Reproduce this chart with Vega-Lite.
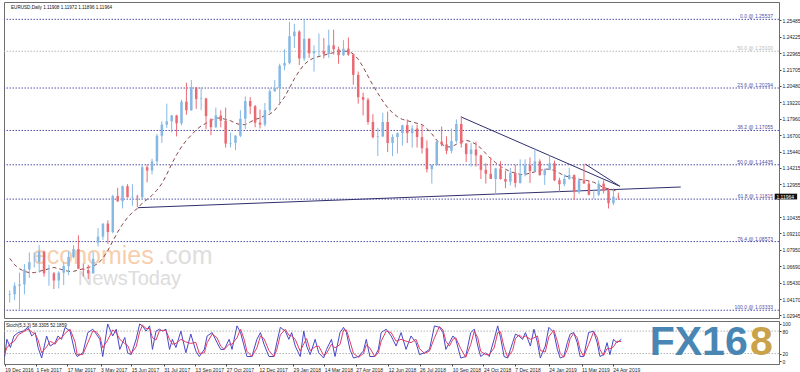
{
"$schema":"https://vega.github.io/schema/vega-lite/v6.json",
"background":"white",
"padding":{"left":2,"top":1,"right":0,"bottom":0},
"spacing":1,
"config":{"view":{"stroke":"#6e6e6e","strokeWidth":1},"font":"Liberation Sans",
 "axis":{"labelFont":"Liberation Sans","labelFontSize":5,"labelColor":"#222","tickSize":2,"tickColor":"#444","domainColor":"#6e6e6e","labelPadding":1,"grid":false,"labelOverlap":false,"labelBound":false,"labelFlush":false,"labelSeparation":0}},
"datasets":{
"px":[
{"d":"2016-12-19","o":1.0450,"h":1.0485,"l":1.0390,"c":1.0455,"ma":1.073},
{"d":"2016-12-26","o":1.0455,"h":1.0545,"l":1.0410,"c":1.0520,"ma":1.068},
{"d":"2017-01-02","o":1.0520,"h":1.0620,"l":1.0340,"c":1.0530,"ma":1.065},
{"d":"2017-01-09","o":1.0530,"h":1.0685,"l":1.0455,"c":1.0645,"ma":1.063},
{"d":"2017-01-16","o":1.0645,"h":1.0775,"l":1.0580,"c":1.0700,"ma":1.062},
{"d":"2017-01-23","o":1.0700,"h":1.0775,"l":1.0660,"c":1.0700,"ma":1.062},
{"d":"2017-01-30","o":1.0700,"h":1.0830,"l":1.0620,"c":1.0780,"ma":1.063},
{"d":"2017-02-06","o":1.0780,"h":1.0790,"l":1.0590,"c":1.0615,"ma":1.064},
{"d":"2017-02-13","o":1.0615,"h":1.0680,"l":1.0520,"c":1.0615,"ma":1.065},
{"d":"2017-02-20","o":1.0615,"h":1.0625,"l":1.0495,"c":1.0560,"ma":1.066},
{"d":"2017-02-27","o":1.0560,"h":1.0630,"l":1.0500,"c":1.0620,"ma":1.065},
{"d":"2017-03-06","o":1.0620,"h":1.0700,"l":1.0525,"c":1.0670,"ma":1.064},
{"d":"2017-03-13","o":1.0670,"h":1.0780,"l":1.0600,"c":1.0740,"ma":1.063},
{"d":"2017-03-20","o":1.0740,"h":1.0830,"l":1.0730,"c":1.0800,"ma":1.063},
{"d":"2017-03-27","o":1.0800,"h":1.0905,"l":1.0650,"c":1.0650,"ma":1.064},
{"d":"2017-04-03","o":1.0650,"h":1.0690,"l":1.0590,"c":1.0640,"ma":1.065},
{"d":"2017-04-10","o":1.0640,"h":1.0680,"l":1.0570,"c":1.0615,"ma":1.066},
{"d":"2017-04-17","o":1.0615,"h":1.0780,"l":1.0610,"c":1.0725,"ma":1.067},
{"d":"2017-04-24","o":1.0850,"h":1.0960,"l":1.0820,"c":1.0895,"ma":1.069},
{"d":"2017-05-01","o":1.0895,"h":1.0995,"l":1.0870,"c":1.0995,"ma":1.073},
{"d":"2017-05-08","o":1.0995,"h":1.1020,"l":1.0840,"c":1.0930,"ma":1.079},
{"d":"2017-05-15","o":1.0930,"h":1.1215,"l":1.0920,"c":1.1205,"ma":1.086},
{"d":"2017-05-22","o":1.1205,"h":1.1268,"l":1.1160,"c":1.1165,"ma":1.093},
{"d":"2017-05-29","o":1.1165,"h":1.1285,"l":1.1110,"c":1.1280,"ma":1.099},
{"d":"2017-06-05","o":1.1280,"h":1.1295,"l":1.1195,"c":1.1195,"ma":1.104},
{"d":"2017-06-12","o":1.1195,"h":1.1295,"l":1.1130,"c":1.1200,"ma":1.108},
{"d":"2017-06-19","o":1.1200,"h":1.1215,"l":1.1120,"c":1.1195,"ma":1.111},
{"d":"2017-06-26","o":1.1195,"h":1.1445,"l":1.1180,"c":1.1425,"ma":1.115},
{"d":"2017-07-03","o":1.1425,"h":1.1445,"l":1.1310,"c":1.1400,"ma":1.118},
{"d":"2017-07-10","o":1.1400,"h":1.1490,"l":1.1370,"c":1.1470,"ma":1.121},
{"d":"2017-07-17","o":1.1470,"h":1.1680,"l":1.1440,"c":1.1665,"ma":1.125},
{"d":"2017-07-24","o":1.1665,"h":1.1775,"l":1.1610,"c":1.1750,"ma":1.130},
{"d":"2017-07-31","o":1.1750,"h":1.1910,"l":1.1725,"c":1.1775,"ma":1.137},
{"d":"2017-08-07","o":1.1775,"h":1.1825,"l":1.1690,"c":1.1820,"ma":1.145},
{"d":"2017-08-14","o":1.1820,"h":1.1825,"l":1.1660,"c":1.1760,"ma":1.152},
{"d":"2017-08-21","o":1.1760,"h":1.1940,"l":1.1745,"c":1.1925,"ma":1.158},
{"d":"2017-08-28","o":1.1925,"h":1.2070,"l":1.1825,"c":1.1860,"ma":1.163},
{"d":"2017-09-04","o":1.1860,"h":1.2090,"l":1.1855,"c":1.2035,"ma":1.167},
{"d":"2017-09-11","o":1.2035,"h":1.2035,"l":1.1870,"c":1.1945,"ma":1.171},
{"d":"2017-09-18","o":1.1945,"h":1.2035,"l":1.1860,"c":1.1950,"ma":1.174},
{"d":"2017-09-25","o":1.1950,"h":1.1955,"l":1.1715,"c":1.1815,"ma":1.176},
{"d":"2017-10-02","o":1.1790,"h":1.1800,"l":1.1670,"c":1.1730,"ma":1.178},
{"d":"2017-10-09","o":1.1730,"h":1.1880,"l":1.1725,"c":1.1820,"ma":1.180},
{"d":"2017-10-16","o":1.1820,"h":1.1860,"l":1.1730,"c":1.1780,"ma":1.180},
{"d":"2017-10-23","o":1.1780,"h":1.1880,"l":1.1575,"c":1.1605,"ma":1.179},
{"d":"2017-10-30","o":1.1605,"h":1.1690,"l":1.1575,"c":1.1610,"ma":1.178},
{"d":"2017-11-06","o":1.1610,"h":1.1670,"l":1.1555,"c":1.1665,"ma":1.176},
{"d":"2017-11-13","o":1.1665,"h":1.1860,"l":1.1655,"c":1.1795,"ma":1.175},
{"d":"2017-11-20","o":1.1795,"h":1.1965,"l":1.1715,"c":1.1930,"ma":1.175},
{"d":"2017-11-27","o":1.1930,"h":1.1960,"l":1.1830,"c":1.1890,"ma":1.177},
{"d":"2017-12-04","o":1.1890,"h":1.1900,"l":1.1730,"c":1.1765,"ma":1.179},
{"d":"2017-12-11","o":1.1765,"h":1.1865,"l":1.1720,"c":1.1750,"ma":1.180},
{"d":"2017-12-18","o":1.1750,"h":1.1915,"l":1.1735,"c":1.1860,"ma":1.182},
{"d":"2017-12-25","o":1.1860,"h":1.2025,"l":1.1840,"c":1.2005,"ma":1.183},
{"d":"2018-01-01","o":1.2005,"h":1.2090,"l":1.2000,"c":1.2030,"ma":1.186},
{"d":"2018-01-08","o":1.2030,"h":1.2215,"l":1.1915,"c":1.2200,"ma":1.191},
{"d":"2018-01-15","o":1.2200,"h":1.2325,"l":1.2165,"c":1.2220,"ma":1.196},
{"d":"2018-01-22","o":1.2220,"h":1.2535,"l":1.2210,"c":1.2425,"ma":1.203},
{"d":"2018-01-29","o":1.2425,"h":1.2520,"l":1.2335,"c":1.2460,"ma":1.210},
{"d":"2018-02-05","o":1.2460,"h":1.2470,"l":1.2205,"c":1.2255,"ma":1.216},
{"d":"2018-02-12","o":1.2255,"h":1.2555,"l":1.2235,"c":1.2405,"ma":1.221},
{"d":"2018-02-19","o":1.2405,"h":1.2410,"l":1.2260,"c":1.2295,"ma":1.224},
{"d":"2018-02-26","o":1.2295,"h":1.2355,"l":1.2155,"c":1.2310,"ma":1.226},
{"d":"2018-03-05","o":1.2310,"h":1.2445,"l":1.2275,"c":1.2310,"ma":1.227},
{"d":"2018-03-12","o":1.2310,"h":1.2410,"l":1.2255,"c":1.2290,"ma":1.228},
{"d":"2018-03-19","o":1.2290,"h":1.2475,"l":1.2260,"c":1.2355,"ma":1.229},
{"d":"2018-03-26","o":1.2355,"h":1.2475,"l":1.2285,"c":1.2325,"ma":1.230},
{"d":"2018-04-02","o":1.2325,"h":1.2345,"l":1.2215,"c":1.2280,"ma":1.231},
{"d":"2018-04-09","o":1.2280,"h":1.2395,"l":1.2275,"c":1.2330,"ma":1.231},
{"d":"2018-04-16","o":1.2330,"h":1.2415,"l":1.2275,"c":1.2285,"ma":1.231},
{"d":"2018-04-23","o":1.2285,"h":1.2290,"l":1.2055,"c":1.2130,"ma":1.229},
{"d":"2018-04-30","o":1.2130,"h":1.2155,"l":1.1910,"c":1.1960,"ma":1.225},
{"d":"2018-05-07","o":1.1960,"h":1.1995,"l":1.1820,"c":1.1940,"ma":1.219},
{"d":"2018-05-14","o":1.1940,"h":1.1955,"l":1.1750,"c":1.1770,"ma":1.212},
{"d":"2018-05-21","o":1.1770,"h":1.1830,"l":1.1645,"c":1.1655,"ma":1.205},
{"d":"2018-05-28","o":1.1655,"h":1.1725,"l":1.1510,"c":1.1660,"ma":1.199},
{"d":"2018-06-04","o":1.1660,"h":1.1840,"l":1.1655,"c":1.1770,"ma":1.193},
{"d":"2018-06-11","o":1.1770,"h":1.1850,"l":1.1540,"c":1.1610,"ma":1.188},
{"d":"2018-06-18","o":1.1610,"h":1.1675,"l":1.1510,"c":1.1655,"ma":1.184},
{"d":"2018-06-25","o":1.1655,"h":1.1690,"l":1.1530,"c":1.1685,"ma":1.181},
{"d":"2018-07-02","o":1.1685,"h":1.1750,"l":1.1590,"c":1.1745,"ma":1.179},
{"d":"2018-07-09","o":1.1745,"h":1.1790,"l":1.1610,"c":1.1685,"ma":1.178},
{"d":"2018-07-16","o":1.1685,"h":1.1745,"l":1.1575,"c":1.1720,"ma":1.177},
{"d":"2018-07-23","o":1.1720,"h":1.1750,"l":1.1575,"c":1.1655,"ma":1.176},
{"d":"2018-07-30","o":1.1655,"h":1.1745,"l":1.1530,"c":1.1570,"ma":1.175},
{"d":"2018-08-06","o":1.1570,"h":1.1630,"l":1.1385,"c":1.1410,"ma":1.172},
{"d":"2018-08-13","o":1.1410,"h":1.1445,"l":1.1300,"c":1.1440,"ma":1.168},
{"d":"2018-08-20","o":1.1440,"h":1.1625,"l":1.1435,"c":1.1620,"ma":1.163},
{"d":"2018-08-27","o":1.1620,"h":1.1735,"l":1.1585,"c":1.1600,"ma":1.160},
{"d":"2018-09-03","o":1.1600,"h":1.1660,"l":1.1525,"c":1.1550,"ma":1.158},
{"d":"2018-09-10","o":1.1550,"h":1.1720,"l":1.1530,"c":1.1625,"ma":1.158},
{"d":"2018-09-17","o":1.1625,"h":1.1790,"l":1.1610,"c":1.1755,"ma":1.160},
{"d":"2018-09-24","o":1.1755,"h":1.1815,"l":1.1575,"c":1.1605,"ma":1.162},
{"d":"2018-10-01","o":1.1605,"h":1.1610,"l":1.1465,"c":1.1525,"ma":1.163},
{"d":"2018-10-08","o":1.1525,"h":1.1610,"l":1.1430,"c":1.1560,"ma":1.162},
{"d":"2018-10-15","o":1.1560,"h":1.1620,"l":1.1430,"c":1.1515,"ma":1.160},
{"d":"2018-10-22","o":1.1515,"h":1.1520,"l":1.1335,"c":1.1405,"ma":1.157},
{"d":"2018-10-29","o":1.1405,"h":1.1455,"l":1.1300,"c":1.1375,"ma":1.153},
{"d":"2018-11-05","o":1.1375,"h":1.1500,"l":1.1335,"c":1.1335,"ma":1.149},
{"d":"2018-11-12","o":1.1335,"h":1.1420,"l":1.1215,"c":1.1415,"ma":1.146},
{"d":"2018-11-19","o":1.1415,"h":1.1470,"l":1.1330,"c":1.1335,"ma":1.143},
{"d":"2018-11-26","o":1.1335,"h":1.1400,"l":1.1265,"c":1.1315,"ma":1.141},
{"d":"2018-12-03","o":1.1315,"h":1.1420,"l":1.1285,"c":1.1380,"ma":1.139},
{"d":"2018-12-10","o":1.1380,"h":1.1445,"l":1.1270,"c":1.1305,"ma":1.138},
{"d":"2018-12-17","o":1.1305,"h":1.1485,"l":1.1300,"c":1.1370,"ma":1.137},
{"d":"2018-12-24","o":1.1370,"h":1.1485,"l":1.1355,"c":1.1440,"ma":1.137},
{"d":"2018-12-31","o":1.1440,"h":1.1500,"l":1.1305,"c":1.1395,"ma":1.138},
{"d":"2019-01-07","o":1.1395,"h":1.1570,"l":1.1390,"c":1.1470,"ma":1.139},
{"d":"2019-01-14","o":1.1470,"h":1.1485,"l":1.1360,"c":1.1365,"ma":1.140},
{"d":"2019-01-21","o":1.1365,"h":1.1415,"l":1.1290,"c":1.1405,"ma":1.141},
{"d":"2019-01-28","o":1.1405,"h":1.1515,"l":1.1400,"c":1.1455,"ma":1.141},
{"d":"2019-02-04","o":1.1455,"h":1.1475,"l":1.1320,"c":1.1325,"ma":1.140},
{"d":"2019-02-11","o":1.1325,"h":1.1345,"l":1.1235,"c":1.1295,"ma":1.138},
{"d":"2019-02-18","o":1.1295,"h":1.1370,"l":1.1280,"c":1.1335,"ma":1.136},
{"d":"2019-02-25","o":1.1335,"h":1.1420,"l":1.1330,"c":1.1365,"ma":1.135},
{"d":"2019-03-04","o":1.1365,"h":1.1370,"l":1.1175,"c":1.1235,"ma":1.134},
{"d":"2019-03-11","o":1.1235,"h":1.1345,"l":1.1220,"c":1.1325,"ma":1.133},
{"d":"2019-03-18","o":1.1325,"h":1.1450,"l":1.1300,"c":1.1300,"ma":1.133},
{"d":"2019-03-25","o":1.1300,"h":1.1325,"l":1.1210,"c":1.1215,"ma":1.132},
{"d":"2019-04-01","o":1.1215,"h":1.1255,"l":1.1185,"c":1.1215,"ma":1.131},
{"d":"2019-04-08","o":1.1215,"h":1.1325,"l":1.1205,"c":1.1300,"ma":1.129},
{"d":"2019-04-15","o":1.1300,"h":1.1325,"l":1.1225,"c":1.1245,"ma":1.127},
{"d":"2019-04-22","o":1.1245,"h":1.1265,"l":1.1110,"c":1.1150,"ma":1.126},
{"d":"2019-04-29","o":1.1150,"h":1.1265,"l":1.1135,"c":1.1200,"ma":1.125},
{"d":"2019-05-06","o":1.1200,"h":1.1230,"l":1.1175,"c":1.1196,"ma":1.124}
],
"st":[
{"d":"2016-12-19","k":12,"s":20},{"d":"2016-12-22","k":58,"s":35},{"d":"2016-12-27","k":36,"s":47},{"d":"2017-01-01","k":67,"s":52},
{"d":"2017-01-07","k":76,"s":70},{"d":"2017-01-14","k":80,"s":78},{"d":"2017-01-21","k":90,"s":85},{"d":"2017-01-26","k":67,"s":78},
{"d":"2017-01-31","k":76,"s":72},{"d":"2017-02-04","k":36,"s":56},{"d":"2017-02-09","k":8,"s":22},{"d":"2017-02-16","k":67,"s":38},
{"d":"2017-02-21","k":40,"s":53},{"d":"2017-02-28","k":49,"s":45},{"d":"2017-03-04","k":67,"s":58},{"d":"2017-03-09","k":58,"s":62},
{"d":"2017-03-14","k":90,"s":74},{"d":"2017-03-21","k":80,"s":85},{"d":"2017-03-28","k":22,"s":51},{"d":"2017-03-31","k":12,"s":17},
{"d":"2017-04-08","k":22,"s":17},{"d":"2017-04-15","k":76,"s":49},{"d":"2017-04-22","k":85,"s":80},{"d":"2017-04-27","k":72,"s":78},
{"d":"2017-05-02","k":58,"s":65},{"d":"2017-05-06","k":12,"s":35},{"d":"2017-05-13","k":99,"s":56},{"d":"2017-05-20","k":67,"s":83},
{"d":"2017-05-25","k":85,"s":76},{"d":"2017-05-30","k":31,"s":58},{"d":"2017-06-06","k":63,"s":47},{"d":"2017-06-10","k":22,"s":42},
{"d":"2017-06-15","k":17,"s":20},{"d":"2017-06-22","k":58,"s":38},{"d":"2017-06-27","k":99,"s":78},{"d":"2017-07-01","k":94,"s":96},
{"d":"2017-07-06","k":80,"s":87},{"d":"2017-07-11","k":94,"s":87},{"d":"2017-07-15","k":31,"s":62},{"d":"2017-07-20","k":80,"s":56},
{"d":"2017-07-25","k":85,"s":82},{"d":"2017-07-29","k":80,"s":82},{"d":"2017-08-03","k":85,"s":82},{"d":"2017-08-08","k":31,"s":58},
{"d":"2017-08-12","k":58,"s":45},{"d":"2017-08-17","k":36,"s":47},{"d":"2017-08-24","k":80,"s":58},{"d":"2017-08-31","k":22,"s":51},
{"d":"2017-09-07","k":72,"s":47},{"d":"2017-09-14","k":27,"s":50},{"d":"2017-09-19","k":12,"s":20},{"d":"2017-09-26","k":31,"s":22},
{"d":"2017-09-30","k":67,"s":49},{"d":"2017-10-07","k":76,"s":72},{"d":"2017-10-14","k":49,"s":62},{"d":"2017-10-19","k":31,"s":40},
{"d":"2017-10-24","k":31,"s":31},{"d":"2017-10-31","k":58,"s":45},{"d":"2017-11-04","k":31,"s":45},{"d":"2017-11-11","k":94,"s":62},
{"d":"2017-11-16","k":76,"s":85},{"d":"2017-11-21","k":40,"s":58},{"d":"2017-11-25","k":12,"s":26},{"d":"2017-12-02","k":12,"s":12},
{"d":"2017-12-09","k":58,"s":35},{"d":"2017-12-14","k":76,"s":67},{"d":"2017-12-19","k":45,"s":60},{"d":"2017-12-26","k":12,"s":28},
{"d":"2018-01-02","k":12,"s":12},{"d":"2018-01-06","k":49,"s":30},{"d":"2018-01-11","k":90,"s":70},{"d":"2018-01-18","k":80,"s":85},
{"d":"2018-01-23","k":58,"s":69},{"d":"2018-01-27","k":76,"s":67},{"d":"2018-02-01","k":40,"s":58},{"d":"2018-02-08","k":12,"s":26},
{"d":"2018-02-13","k":80,"s":46},{"d":"2018-02-17","k":40,"s":60},{"d":"2018-02-22","k":17,"s":28},{"d":"2018-03-01","k":58,"s":38},
{"d":"2018-03-06","k":22,"s":40},{"d":"2018-03-13","k":8,"s":15},{"d":"2018-03-17","k":31,"s":20},{"d":"2018-03-24","k":58,"s":45},
{"d":"2018-03-29","k":12,"s":35},{"d":"2018-04-05","k":76,"s":44},{"d":"2018-04-10","k":90,"s":83},{"d":"2018-04-14","k":76,"s":83},
{"d":"2018-04-19","k":31,"s":53},{"d":"2018-04-24","k":8,"s":20},{"d":"2018-05-01","k":12,"s":10},{"d":"2018-05-08","k":27,"s":20},
{"d":"2018-05-12","k":58,"s":43},{"d":"2018-05-17","k":12,"s":35},{"d":"2018-05-24","k":12,"s":12},{"d":"2018-05-29","k":31,"s":22},
{"d":"2018-06-02","k":76,"s":53},{"d":"2018-06-09","k":85,"s":80},{"d":"2018-06-16","k":67,"s":76},{"d":"2018-06-23","k":40,"s":53},
{"d":"2018-06-30","k":76,"s":58},{"d":"2018-07-07","k":31,"s":53},{"d":"2018-07-14","k":67,"s":49},{"d":"2018-07-21","k":49,"s":58},
{"d":"2018-07-26","k":17,"s":33},{"d":"2018-08-02","k":22,"s":20},{"d":"2018-08-09","k":31,"s":27},{"d":"2018-08-16","k":94,"s":62},
{"d":"2018-08-23","k":90,"s":92},{"d":"2018-08-28","k":76,"s":83},{"d":"2018-09-01","k":31,"s":53},{"d":"2018-09-06","k":49,"s":40},
{"d":"2018-09-11","k":67,"s":58},{"d":"2018-09-15","k":58,"s":62},{"d":"2018-09-22","k":8,"s":33},{"d":"2018-09-29","k":12,"s":10},
{"d":"2018-10-06","k":76,"s":44},{"d":"2018-10-11","k":85,"s":80},{"d":"2018-10-16","k":40,"s":62},{"d":"2018-10-20","k":12,"s":26},
{"d":"2018-10-27","k":22,"s":17},{"d":"2018-11-01","k":12,"s":17},{"d":"2018-11-08","k":58,"s":35},{"d":"2018-11-13","k":94,"s":76},
{"d":"2018-11-17","k":63,"s":78},{"d":"2018-11-22","k":12,"s":37},{"d":"2018-11-27","k":8,"s":10},{"d":"2018-12-04","k":49,"s":28},
{"d":"2018-12-08","k":72,"s":60},{"d":"2018-12-13","k":67,"s":70},{"d":"2018-12-18","k":58,"s":62},{"d":"2018-12-22","k":76,"s":67},
{"d":"2018-12-29","k":40,"s":58},{"d":"2019-01-03","k":85,"s":62},{"d":"2019-01-08","k":49,"s":67},{"d":"2019-01-12","k":8,"s":28},
{"d":"2019-01-19","k":40,"s":24},{"d":"2019-01-24","k":90,"s":65},{"d":"2019-01-31","k":76,"s":83},{"d":"2019-02-05","k":31,"s":53},
{"d":"2019-02-09","k":8,"s":20},{"d":"2019-02-14","k":12,"s":10},{"d":"2019-02-19","k":49,"s":30},{"d":"2019-02-23","k":72,"s":60},
{"d":"2019-02-28","k":76,"s":74},{"d":"2019-03-05","k":49,"s":62},{"d":"2019-03-09","k":12,"s":30},{"d":"2019-03-14","k":12,"s":12},
{"d":"2019-03-21","k":76,"s":44},{"d":"2019-03-28","k":80,"s":78},{"d":"2019-04-02","k":49,"s":64},{"d":"2019-04-06","k":12,"s":30},
{"d":"2019-04-11","k":17,"s":15},{"d":"2019-04-16","k":49,"s":33},{"d":"2019-04-20","k":17,"s":33},{"d":"2019-04-25","k":58,"s":38},
{"d":"2019-04-30","k":49,"s":53},{"d":"2019-05-06","k":58,"s":52}
],
"fib":[
{"p":1.25537,"t":"0.0 @ 1.25537","g":"m"},
{"p":1.231,"t":"50.0 @ 1.23100","g":"a"},
{"p":1.20294,"t":"23.6 @ 1.20294","g":"m"},
{"p":1.17055,"t":"38.2 @ 1.17055","g":"m"},
{"p":1.14435,"t":"50.0 @ 1.14435","g":"m"},
{"p":1.11815,"t":"61.8 @ 1.11815","g":"m"},
{"p":1.08573,"t":"76.4 @ 1.08573","g":"m"},
{"p":1.03333,"t":"100.0 @ 1.03333","g":"m"}
],
"tl":[
{"id":"A","d":"2017-06-20","p":1.1116},{"id":"A","d":"2019-08-03","p":1.1274},
{"id":"B","d":"2018-09-24","p":1.1808},{"id":"B","d":"2019-05-08","p":1.1280},
{"id":"C","d":"2019-03-20","p":1.1448},{"id":"C","d":"2019-05-08","p":1.1280}
]
},
"vconcat":[
{
"width":775,"height":316,
"layer":[
{"data":{"name":"fib"},"mark":{"type":"rule","strokeDash":[1.5,1.5],"strokeWidth":1},
 "encoding":{
  "y":{"field":"p","type":"quantitative","scale":{"domain":[1.0274,1.2686],"nice":false,"zero":false},
   "axis":{"orient":"right","title":null,"format":".5f","labelOverlap":false,"labelSeparation":0,"labelBound":false,"tickCount":100,
    "values":[1.02945,1.0417,1.0543,1.0669,1.0795,1.0921,1.10435,1.12955,1.14215,1.1544,1.167,1.1796,1.1922,1.2048,1.21705,1.22965,1.24225,1.25485]}},
  "color":{"condition":{"test":"datum.g=='a'","value":"#b8b8b8"},"value":"#4f4fa6"}}},
{"data":{"name":"fib"},"mark":{"type":"text","align":"right","baseline":"bottom","dx":-1,"dy":0,"fontSize":5},
 "encoding":{
  "x":{"datum":{"year":2019,"month":12,"date":14,"utc":true},"type":"temporal","scale":{"type":"utc","domain":[{"year":2016,"month":12,"date":18,"utc":true},{"year":2019,"month":12,"date":14,"utc":true}]},"axis":null},
  "y":{"field":"p","type":"quantitative"},
  "text":{"field":"t"},
  "color":{"condition":{"test":"datum.g=='a'","value":"#b8b8b8"},"value":"#4f4fa6"}}},
{"data":{"values":[{"t":"economies"}]},"mark":{"type":"text","align":"left","baseline":"middle","fontSize":25,"color":"#f7cfae"},
 "encoding":{"x":{"datum":{"year":2017,"month":1,"date":21,"utc":true},"type":"temporal","axis":null},"y":{"datum":1.0745,"type":"quantitative"},"text":{"field":"t"}}},
{"data":{"values":[{"t":".com"}]},"mark":{"type":"text","align":"left","baseline":"middle","fontSize":25,"color":"#dedede"},
 "encoding":{"x":{"datum":{"year":2017,"month":7,"date":19,"utc":true},"type":"temporal","axis":null},"y":{"datum":1.0745,"type":"quantitative"},"text":{"field":"t"}}},
{"data":{"values":[{"t":"NewsToday"}]},"mark":{"type":"text","align":"left","baseline":"middle","fontSize":20,"color":"#dcdcdc"},
 "encoding":{"x":{"datum":{"year":2017,"month":3,"date":26,"utc":true},"type":"temporal","axis":null},"y":{"datum":1.0570,"type":"quantitative"},"text":{"field":"t"}}},
{"data":{"name":"tl"},"mark":{"type":"line","strokeWidth":1,"color":"#2f2f6e"},
 "encoding":{"x":{"field":"d","type":"temporal","axis":null},"y":{"field":"p","type":"quantitative"},"detail":{"field":"id"}}},
{"data":{"name":"px"},"mark":{"type":"line","strokeWidth":1,"strokeDash":[4,3],"color":"#8a4848"},
 "encoding":{"x":{"field":"d","type":"temporal","axis":null},"y":{"field":"ma","type":"quantitative"}}},
{"data":{"name":"px"},"mark":{"type":"rule","strokeWidth":1},
 "encoding":{"x":{"field":"d","type":"temporal","axis":null},"y":{"field":"l","type":"quantitative"},"y2":{"field":"h"},
  "color":{"condition":{"test":"datum.c>=datum.o","value":"#86b8e4"},"value":"#ea6a74"}}},
{"data":{"name":"px"},"mark":{"type":"bar","width":2.5},
 "encoding":{"x":{"field":"d","type":"temporal","axis":null},"y":{"field":"o","type":"quantitative"},"y2":{"field":"c"},
  "color":{"condition":{"test":"datum.c>=datum.o","value":"#86b8e4"},"value":"#ea6a74"}}},
{"data":{"values":[{"t":"EURUSD,Daily  1.11908 1.11972 1.11896 1.11964"}]},"mark":{"type":"text","align":"left","baseline":"top","fontSize":4.6,"dx":2,"dy":3,"color":"#111"},
 "encoding":{"x":{"datum":{"year":2016,"month":12,"date":18,"utc":true},"type":"temporal","axis":null},"y":{"datum":1.2686,"type":"quantitative"},"text":{"field":"t"}}},
{"data":{"values":[{"t":"1.11964"}]},"mark":{"type":"rect","color":"#111"},
 "encoding":{"x":{"datum":{"year":2019,"month":12,"date":15,"utc":true},"type":"temporal","axis":null},"x2":{"datum":{"year":2020,"month":1,"date":16,"utc":true}},"y":{"datum":1.1223,"type":"quantitative"},"y2":{"datum":1.1179}}},
{"data":{"values":[{"t":"1.11964"}]},"mark":{"type":"text","align":"left","baseline":"middle","fontSize":5,"dx":1,"color":"white"},
 "encoding":{"x":{"datum":{"year":2019,"month":12,"date":16,"utc":true},"type":"temporal","axis":null},"y":{"datum":1.1201,"type":"quantitative"},"text":{"field":"t"}}}
]
},
{
"width":775,"height":43,
"layer":[
{"data":{"values":[{"v":20},{"v":80}]},"mark":{"type":"rule","strokeDash":[1.5,1.5],"strokeWidth":1,"color":"#b5b5b5"},
 "encoding":{"y":{"field":"v","type":"quantitative","scale":{"domain":[-8,107],"nice":false,"zero":false},
  "axis":{"orient":"right","title":null,"values":[0,20,80,100],"labelOverlap":false,"labelSeparation":0,"labelBound":false,"tickCount":100}}}},
{"data":{"name":"st"},"mark":{"type":"line","strokeWidth":1,"color":"#4848c8"},
 "encoding":{
  "x":{"field":"d","type":"temporal","scale":{"type":"utc","domain":[{"year":2016,"month":12,"date":18,"utc":true},{"year":2019,"month":12,"date":14,"utc":true}]},
   "axis":{"title":null,"format":"%-d %b %Y","labelAlign":"left","domain":false,"labelOverlap":false,"tickCount":100,
    "values":[{"year":2016,"month":12,"date":19,"utc":true},{"year":2017,"month":2,"date":1,"utc":true},{"year":2017,"month":3,"date":17,"utc":true},{"year":2017,"month":5,"date":3,"utc":true},{"year":2017,"month":6,"date":15,"utc":true},{"year":2017,"month":7,"date":31,"utc":true},{"year":2017,"month":9,"date":13,"utc":true},{"year":2017,"month":10,"date":27,"utc":true},{"year":2017,"month":12,"date":12,"utc":true},{"year":2018,"month":1,"date":29,"utc":true},{"year":2018,"month":3,"date":14,"utc":true},{"year":2018,"month":4,"date":27,"utc":true},{"year":2018,"month":6,"date":12,"utc":true},{"year":2018,"month":7,"date":26,"utc":true},{"year":2018,"month":9,"date":10,"utc":true},{"year":2018,"month":10,"date":24,"utc":true},{"year":2018,"month":12,"date":7,"utc":true},{"year":2019,"month":1,"date":24,"utc":true},{"year":2019,"month":3,"date":11,"utc":true},{"year":2019,"month":4,"date":24,"utc":true}]}},
  "y":{"field":"k","type":"quantitative"}}},
{"data":{"name":"st"},"mark":{"type":"line","strokeWidth":1,"color":"#e23c64"},
 "encoding":{"x":{"field":"d","type":"temporal"},"y":{"field":"s","type":"quantitative"}}},
{"data":{"values":[{"t":"Stoch(5,3,3) 58.3305 52.1859"}]},"mark":{"type":"text","align":"left","baseline":"top","fontSize":4.6,"dx":2,"dy":2,"color":"#111"},
 "encoding":{"x":{"datum":{"year":2016,"month":12,"date":18,"utc":true},"type":"temporal"},"y":{"datum":107,"type":"quantitative"},"text":{"field":"t"}}},
{"data":{"values":[{"t":"FX16"}]},"mark":{"type":"text","align":"left","baseline":"middle","fontSize":41,"fontWeight":"bold","color":"#4a86b4"},
 "encoding":{"x":{"datum":{"year":2019,"month":6,"date":15,"utc":true},"type":"temporal"},"y":{"datum":48,"type":"quantitative"},"text":{"field":"t"}}},
{"data":{"values":[{"t":"8"}]},"mark":{"type":"text","align":"left","baseline":"middle","fontSize":41,"fontWeight":"bold","color":"#c9a24a"},
 "encoding":{"x":{"datum":{"year":2019,"month":11,"date":3,"utc":true},"type":"temporal"},"y":{"datum":48,"type":"quantitative"},"text":{"field":"t"}}}
]
}
]
}
